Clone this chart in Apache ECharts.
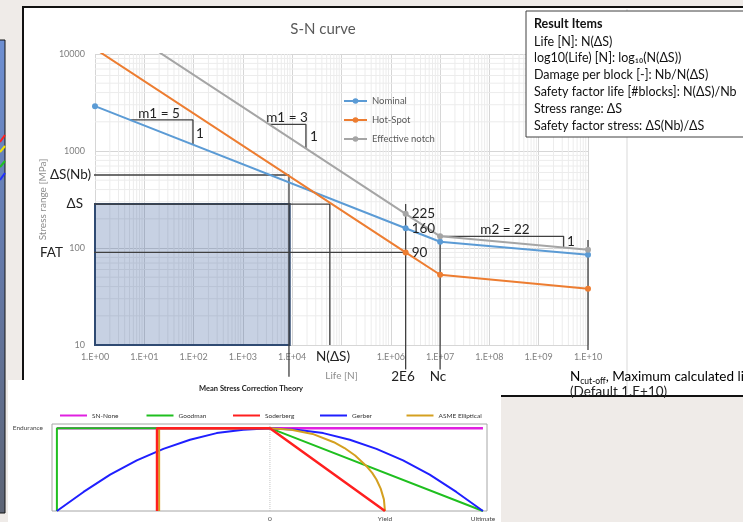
<!DOCTYPE html>
<html>
<head>
<meta charset="utf-8">
<script src="https://cdn.jsdelivr.net/npm/echarts@6/dist/echarts.min.js"></script>
<style>
  html, body { margin: 0; padding: 0; background: #efebe8; }
  #chart { width: 743px; height: 522px; }
</style>
</head>
<body>
<div id="chart"></div>
<script>
// ---- S-N curves: [life N, stress range MPa] ----
const nominal        = [[1, 2900], [2e6, 160], [1e7, 116], [1e10, 85]];
const hotSpot        = [[1, 11300], [2e6, 90], [1e7, 53], [1e10, 38]];
const effectiveNotch = [[1, 28300], [2e6, 225], [1e7, 132], [1e10, 96]];
const curveNames = ['Nominal', 'Hot-Spot', 'Effective notch'];

const lifeTicks   = ['1.E+00', '1.E+01', '1.E+02', '1.E+03', '1.E+04', '', '1.E+06', '1.E+07', '1.E+08', '1.E+09', '1.E+10'];
const stressTicks = { 1: '10', 2: '100', 3: '1000', 4: '10000' };
const minorSteps  = [2, 3, 4, 5, 6, 7, 8, 9];

// ---- guide lines on the S-N diagram ----
const designStressGuide = [[0.87, 566], [8600, 566], [8600, 4.7]];
const stressGuide       = [[0.87, 284], [58000, 284], [58000, 10]];
const fatGuide          = [[0.34, 90], [2e6, 90]];
const kneeGuide         = [[2e6, 284], [2e6, 5.6]];
const ncGuide           = [[1e7, 136], [1e7, 5.6]];
const cutoffGuide       = [[1e10, 121], [1e10, 8.9]];
const slopeM1Nominal    = [[5.1, 2090], [97, 2090], [97, 1150]];
const slopeM1Notch      = [[3400, 1880], [19000, 1880], [19000, 1060]];
const slopeM2           = [[1e7, 132], [3.2e9, 132], [3.2e9, 101]];
const loadBlock         = [1, 10, 8900, 284];   // N from, S from, N to, S to

// ---- mean stress correction: [mean stress / ultimate, amplitude / endurance] ----
const msNames   = ['SN-None', 'Goodman', 'Soderberg', 'Gerber', 'ASME Elliptical'];
const snNone    = [[-1, 1], [1, 1]];
const goodman   = [[-1, 0], [-1, 1], [0, 1], [1, 0]];
const soderberg = [[-0.53, 0], [-0.53, 1], [0, 1], [0.54, 0]];
const gerber    = [[-1, 0], [-0.875, 0.23], [-0.75, 0.44], [-0.625, 0.61], [-0.5, 0.75], [-0.375, 0.86],
                   [-0.25, 0.94], [-0.125, 0.98], [0, 1], [0.125, 0.98], [0.25, 0.94], [0.375, 0.86],
                   [0.5, 0.75], [0.625, 0.61], [0.75, 0.44], [0.875, 0.23], [1, 0]];
const asmeElliptical = [[-0.52, 0], [-0.52, 1], [0, 1], [0.1, 0.98], [0.2, 0.93], [0.3, 0.83], [0.35, 0.76],
                        [0.4, 0.67], [0.45, 0.55], [0.48, 0.46], [0.5, 0.38], [0.52, 0.27], [0.535, 0.14], [0.54, 0]];
const msTickValues = [0, 0.54, 1];
const msTickNames  = ['0', 'Yield', 'Ultimate'];

const FONT = 'Lato, "Open Sans", sans-serif';
const INK = '#222';
const GUIDE = '#404040';

const chart = echarts.init(document.getElementById('chart'), null, { renderer: 'canvas' });

function curve(name, data, color) {
  return {
    name, type: 'line', xAxisIndex: 0, yAxisIndex: 0,
    data: data.map(function (d, i) {
      if (i !== 1) return d;
      return {
        value: d,
        label: {
          show: true, position: 'right', distance: 3,
          formatter: function (p) { return String(p.value[1]); },
          fontFamily: FONT, fontSize: 13.5, color: INK
        }
      };
    }),
    symbol: 'circle', symbolSize: 6, clip: true, z: 5,
    lineStyle: { color, width: 2 }, itemStyle: { color }
  };
}

function guide(data) {
  return {
    type: 'line', xAxisIndex: 0, yAxisIndex: 0, data, symbol: 'none', silent: true,
    clip: false, z: 4, lineStyle: { color: GUIDE, width: 1.3 }
  };
}

function msLine(name, data, color, width, z) {
  return {
    name, type: 'line', xAxisIndex: 1, yAxisIndex: 1, data, symbol: 'none', silent: true,
    z, lineStyle: { color, width }, itemStyle: { color }
  };
}

function txt(text, x, y, align, extra) {
  return Object.assign({
    type: 'text', x, y, z: 20,
    style: { text, fill: INK, fontFamily: FONT, fontSize: 13.5, align: align || 'left', verticalAlign: 'middle' }
  }, extra || {});
}

const resultLines = [
  'Life [N]: N(ΔS)',
  'log10(Life) [N]: log₁₀(N(ΔS))',
  'Damage per block [-]: Nb/N(ΔS)',
  'Safety factor life [#blocks]: N(ΔS)/Nb',
  'Stress range: ΔS',
  'Safety factor stress: ΔS(Nb)/ΔS'
];

const graphics = [
  // neighbouring window edge
  { type: 'rect', z: -10, shape: { x: -2, y: 40, width: 7, height: 473 },
    style: { fill: new echarts.graphic.LinearGradient(0, 0, 0, 1, [
      { offset: 0, color: '#6e8fd2' }, { offset: 0.5, color: '#6478a6' }, { offset: 1, color: '#5d6474' }]),
      stroke: '#151515', lineWidth: 1 } },
  { type: 'line', z: -9, shape: { x1: 0, y1: 142, x2: 5, y2: 135 }, style: { stroke: '#ff2020', lineWidth: 2 } },
  { type: 'line', z: -9, shape: { x1: 0, y1: 152, x2: 5, y2: 146 }, style: { stroke: '#f2e500', lineWidth: 2 } },
  { type: 'line', z: -9, shape: { x1: 0, y1: 167, x2: 5, y2: 161 }, style: { stroke: '#1fc21f', lineWidth: 2 } },
  { type: 'line', z: -9, shape: { x1: 0, y1: 180, x2: 5, y2: 173 }, style: { stroke: '#2030ff', lineWidth: 2 } },
  // S-N window
  { type: 'rect', z: -10, shape: { x: 23, y: 7, width: 740, height: 389 },
    style: { fill: '#ffffff', stroke: '#111111', lineWidth: 2 } },
  { type: 'line', z: -9, shape: { x1: 627, y1: 9, x2: 627, y2: 394 }, style: { stroke: '#d9d9d9', lineWidth: 1 } },
  // mean stress window
  { type: 'rect', z: -8, shape: { x: 8, y: 380, width: 493, height: 150 }, style: { fill: '#ffffff' } },

  txt('S-N curve', 323, 29, 'center', { style: { text: 'S-N curve', fill: '#595959', fontFamily: FONT, fontSize: 15, align: 'center', verticalAlign: 'middle' } }),

  txt('ΔS(Nb)', 91, 175, 'right'),
  txt('ΔS', 83, 204, 'right'),
  txt('FAT', 63, 253, 'right'),
  txt('N(ΔS)', 333, 357, 'center'),
  txt('2E6', 403, 377, 'center'),
  txt('Nc', 438, 377, 'center'),
  { type: 'text', x: 570, y: 377, z: 20,
    style: { text: '{n|N}{s|cut-off}{n|, Maximum calculated life}', verticalAlign: 'middle',
      rich: { n: { fontFamily: FONT, fontSize: 13.5, color: INK },
              s: { fontFamily: FONT, fontSize: 8.5, color: INK, padding: [9, 0, 0, 0] } } } },
  txt('(Default 1.E+10)', 570, 392, 'left'),
  txt('m1 = 5', 159, 114, 'center'),
  txt('1', 196, 134, 'left'),
  txt('m1 = 3', 287, 118, 'center'),
  txt('1', 310, 137, 'left'),
  txt('m2 = 22', 505, 230, 'center'),
  txt('1', 567, 242, 'left'),

  // result items box
  { type: 'rect', z: 30, shape: { x: 526, y: 11, width: 230, height: 126 },
    style: { fill: '#ffffff', stroke: '#404040', lineWidth: 1 } },
  { type: 'text', x: 534, y: 24, z: 31,
    style: { text: 'Result Items', fill: '#111', fontFamily: FONT, fontSize: 12.5, fontWeight: 'bold', verticalAlign: 'middle' } }
].concat(resultLines.map(function (t, i) {
  return { type: 'text', x: 534, y: 41.5 + i * 16.8, z: 31,
    style: { text: t, fill: '#111', fontFamily: FONT, fontSize: 12.5, verticalAlign: 'middle' } };
})).concat([
  { type: 'text', x: 251, y: 389, z: 20,
    style: { text: 'Mean Stress Correction Theory', fill: '#222', fontFamily: FONT, fontSize: 7.5,
      fontWeight: 'bold', align: 'center', verticalAlign: 'middle' } }
]);

// one legend per correction theory so the entries sit on an even pitch
const msLegendLeft = [55, 141.5, 228, 315, 401.5];
const msLegends = msNames.map(function (n, i) {
  return {
    data: [n], left: msLegendLeft[i], top: 407, icon: 'rect',
    itemWidth: 27, itemHeight: 2, itemGap: 0,
    textStyle: { fontSize: 6.5, color: '#333', fontFamily: FONT }
  };
});

const option = {
  animation: false,
  backgroundColor: '#efebe8',
  textStyle: { fontFamily: FONT },
  graphic: graphics,
  legend: [
    {
      data: curveNames, orient: 'vertical', left: 338, top: 91,
      itemWidth: 23, itemHeight: 7, itemGap: 9,
      textStyle: { fontSize: 9.5, color: '#595959', fontFamily: FONT }
    }
  ].concat(msLegends),
  grid: [
    { left: 95, top: 54, width: 493, height: 291 },
    { left: 52, top: 424, width: 435, height: 89, show: true, backgroundColor: '#ffffff',
      borderColor: '#a6a6a6', borderWidth: 1 }
  ],
  xAxis: [
    {
      type: 'log', gridIndex: 0, logBase: 10, min: 1, max: 1e10, interval: 1, splitNumber: 10,
      name: 'Life [N]', nameLocation: 'middle', nameGap: 26,
      nameTextStyle: { fontSize: 10, color: '#8c8c8c', fontFamily: FONT },
      axisLine: { show: false }, axisTick: { show: false },
      axisLabel: { fontSize: 9, color: '#7f7f7f', margin: 8, fontFamily: FONT, hideOverlap: false,
        formatter: function (v) { return lifeTicks[Math.round(Math.log10(v))] || ''; } },
      splitLine: { show: true, lineStyle: { color: '#d6d6d6', width: 1 } }
    },
    {
      type: 'value', gridIndex: 1, min: -1.023, max: 1.019,
      axisLine: { show: false }, axisTick: { show: false }, splitLine: { show: false },
      axisLabel: { customValues: msTickValues, fontSize: 6.5, color: '#444', margin: 4, fontFamily: FONT,
        formatter: function (v) { const i = msTickValues.indexOf(v); return i < 0 ? '' : msTickNames[i]; } }
    }
  ],
  yAxis: [
    {
      type: 'log', gridIndex: 0, logBase: 10, min: 10, max: 10000, interval: 1, splitNumber: 3,
      name: 'Stress range [MPa]', nameLocation: 'middle', nameGap: 36,
      nameTextStyle: { fontSize: 10, color: '#8c8c8c', fontFamily: FONT },
      axisLine: { show: false }, axisTick: { show: false },
      axisLabel: { fontSize: 9, color: '#7f7f7f', margin: 10, fontFamily: FONT,
        formatter: function (v) { return stressTicks[Math.round(Math.log10(v))] || ''; } },
      splitLine: { show: true, lineStyle: { color: '#d6d6d6', width: 1 } }
    },
    {
      type: 'value', gridIndex: 1, min: 0, max: 1.05,
      axisLine: { show: false }, axisTick: { show: false }, splitLine: { show: false },
      axisLabel: { customValues: [1], fontSize: 6.5, color: '#444', margin: 9, fontFamily: FONT,
        formatter: function (v) { return v === 1 ? 'Endurance' : ''; } }
    }
  ],
  series: [
    // minor log grid of the S-N diagram
    {
      type: 'custom', xAxisIndex: 0, yAxisIndex: 0, silent: true, z: 1,
      data: [[1, 10]],
      renderItem: function (params, api) {
        const children = [];
        const ls = { stroke: '#ececec', lineWidth: 1 };
        for (let e = 0; e < 10; e++) {
          minorSteps.forEach(function (m) {
            const v = m * Math.pow(10, e);
            const a = api.coord([v, 10]), b = api.coord([v, 10000]);
            children.push({ type: 'line', shape: { x1: a[0], y1: a[1], x2: b[0], y2: b[1] }, style: ls });
          });
        }
        for (let e = 1; e < 4; e++) {
          minorSteps.forEach(function (m) {
            const v = m * Math.pow(10, e);
            const a = api.coord([1, v]), b = api.coord([1e10, v]);
            children.push({ type: 'line', shape: { x1: a[0], y1: a[1], x2: b[0], y2: b[1] }, style: ls });
          });
        }
        return { type: 'group', children };
      }
    },
    // load block rectangle
    {
      type: 'custom', xAxisIndex: 0, yAxisIndex: 0, silent: true, z: 3,
      data: [loadBlock], encode: { x: [0, 2], y: [1, 3] },
      renderItem: function (params, api) {
        const p0 = api.coord([api.value(0), api.value(1)]);
        const p1 = api.coord([api.value(2), api.value(3)]);
        return {
          type: 'rect',
          shape: { x: p0[0], y: p1[1], width: p1[0] - p0[0], height: p0[1] - p1[1] },
          style: { fill: 'rgba(47,85,151,0.27)', stroke: '#2f4a72', lineWidth: 2 }
        };
      }
    },
    guide(designStressGuide), guide(stressGuide), guide(fatGuide),
    guide(kneeGuide), guide(ncGuide), guide(cutoffGuide),
    guide(slopeM1Nominal), guide(slopeM1Notch), guide(slopeM2),
    curve('Nominal', nominal, '#5b9bd5'),
    curve('Hot-Spot', hotSpot, '#ed7d31'),
    curve('Effective notch', effectiveNotch, '#a5a5a5'),

    // mean stress correction
    {
      type: 'line', xAxisIndex: 1, yAxisIndex: 1, data: [[0, 0], [0, 1.05]], symbol: 'none', silent: true,
      z: 1, lineStyle: { color: '#c4c4c4', width: 1, type: 'dotted' }
    },
    msLine('SN-None', snNone, '#e020e0', 2.5, 2),
    msLine('Goodman', goodman, '#1fbf1f', 2, 3),
    msLine('Gerber', gerber, '#1f1fff', 2, 4),
    msLine('ASME Elliptical', asmeElliptical, '#d4a020', 2, 5),
    msLine('Soderberg', soderberg, '#ff1f1f', 2.5, 6)
  ]
};

chart.setOption(option);
</script>
</body>
</html>
